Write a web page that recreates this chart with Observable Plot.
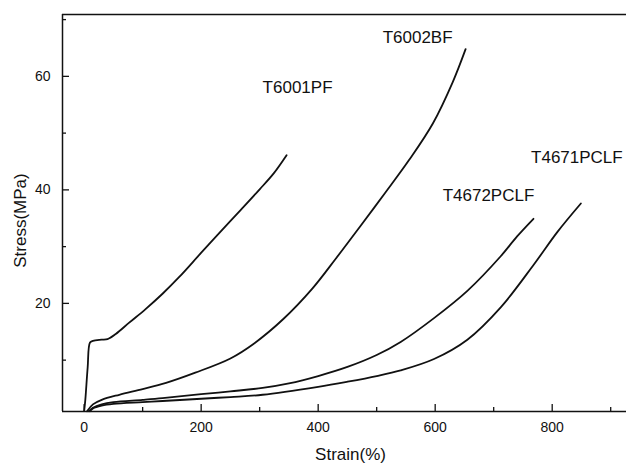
<!DOCTYPE html>
<html><head><meta charset="utf-8">
<script src="https://cdn.jsdelivr.net/npm/d3@7"></script>
<script src="https://cdn.jsdelivr.net/npm/@observablehq/plot@0.6"></script>
<style>body{margin:0;background:#fff} svg{display:block}</style>
</head><body><div id="chart"></div>
<script>
// ---- data ----
const seriesNames = ["T6001PF", "T6002BF", "T4672PCLF", "T4671PCLF"];

const strainT6001PF = [0, 2, 6, 10, 15, 30, 40, 54, 77, 105, 134, 163, 199, 230, 267, 300, 324, 346];
const stressT6001PF = [1, 3, 8.7, 13.1, 13.4, 13.6, 13.7, 14.6, 16.6, 19.0, 21.7, 24.7, 28.8, 32.3, 36.4, 40.1, 42.9, 46.1];

const strainT6002BF = [5, 15, 30, 60, 100, 140, 190, 250, 290, 340, 390, 431, 472, 514, 555, 596, 630, 652];
const stressT6002BF = [1, 2.2, 3.0, 3.9, 4.9, 6.0, 7.8, 10.3, 12.9, 17.2, 22.6, 28.0, 33.6, 39.4, 45.2, 51.7, 59.0, 64.8];

const strainT4672PCLF = [8, 15, 30, 50, 100, 134, 200, 250, 305, 350, 400, 450, 500, 541, 598, 655, 712, 740, 768];
const stressT4672PCLF = [1, 1.6, 2.2, 2.6, 3.0, 3.3, 4.0, 4.5, 5.1, 5.9, 7.2, 8.8, 10.9, 13.2, 17.4, 22.2, 28.3, 31.8, 34.9];

const strainT4671PCLF = [10, 15, 30, 50, 100, 134, 200, 250, 305, 400, 450, 500, 541, 598, 655, 712, 769, 809, 849];
const stressT4671PCLF = [1, 1.5, 2.0, 2.3, 2.6, 2.8, 3.2, 3.5, 3.9, 5.3, 6.2, 7.2, 8.2, 10.2, 13.6, 19.3, 26.9, 32.6, 37.6];

const xMajorTicks = [0, 200, 400, 600, 800];
const xMinorTicks = [100, 300, 500, 700, 900];
const yMajorTicks = [20, 40, 60];
const yMinorTicks = [10, 30, 50, 70];
const xTitle = "Strain(%)";
const yTitle = "Stress(MPa)";

// ---- build table ----
const strainBy = {T6001PF: strainT6001PF, T6002BF: strainT6002BF, T4672PCLF: strainT4672PCLF, T4671PCLF: strainT4671PCLF};
const stressBy = {T6001PF: stressT6001PF, T6002BF: stressT6002BF, T4672PCLF: stressT4672PCLF, T4671PCLF: stressT4671PCLF};
const rows = seriesNames.flatMap(s => strainBy[s].map((v, i) => ({series: s, strain: v, stress: stressBy[s][i]})));
const lastPoints = seriesNames.map(s => { const r = rows.filter(d => d.series === s); return r[r.length - 1]; });

// label offsets (px) relative to each curve's end point — styling
const labelOffset = {T6001PF: [11, -68], T6002BF: [-48, -12], T4672PCLF: [-45, -23], T4671PCLF: [-4, -46]};

const xDomain = [-37, 927];
const yDomain = [0.95, 70.9];
const font = "'Liberation Sans', Arial, Helvetica, sans-serif";
const ink = "#111";

const chart = Plot.plot({
  width: 626, height: 463,
  marginLeft: 62, marginRight: 0, marginTop: 14, marginBottom: 52,
  style: {fontFamily: font, fontSize: "14px", color: ink, background: "#fff"},
  x: {domain: xDomain, label: null},
  y: {domain: yDomain, label: null},
  marks: [
    Plot.line(rows, {x: "strain", y: "stress", z: "series", stroke: ink, strokeWidth: 1.8, curve: "catmull-rom"}),
    // inward ticks (shifted into the frame)
    Plot.axisX({ticks: xMajorTicks, tickSize: 7, dy: -7, tickFormat: () => "", strokeWidth: 1.3}),
    Plot.axisX({ticks: xMinorTicks, tickSize: 4, dy: -4, tickFormat: () => "", strokeWidth: 1.3}),
    Plot.axisY({ticks: yMajorTicks, tickSize: 7, dx: 7, tickFormat: () => "", strokeWidth: 1.3}),
    Plot.axisY({ticks: yMinorTicks, tickSize: 4, dx: 4, tickFormat: () => "", strokeWidth: 1.3}),
    // tick labels
    Plot.axisX({ticks: xMajorTicks, tickSize: 0, tickPadding: 10.5, fontSize: 14}),
    Plot.axisY({ticks: yMajorTicks, tickSize: 0, tickPadding: 12, fontSize: 14}),
    Plot.ruleX([xDomain[0]], {stroke: ink, strokeWidth: 1.5}),
    Plot.ruleY([yDomain[0]], {stroke: ink, strokeWidth: 1.5}),
    Plot.ruleY([yDomain[1]], {stroke: ink, strokeWidth: 1.5}),
    ...lastPoints.map(p => Plot.text([p], {
      x: "strain", y: "stress", text: "series",
      dx: labelOffset[p.series][0], dy: labelOffset[p.series][1],
      fontSize: 17, textAnchor: "middle", lineAnchor: "middle", fill: ink
    })),
    Plot.text([xTitle], {frameAnchor: "bottom", text: d => d, dx: 6, dy: 43, fontSize: 17, textAnchor: "middle", lineAnchor: "middle", fill: ink}),
    Plot.text([yTitle], {frameAnchor: "left", text: d => d, dx: -42.3, dy: 7.5, rotate: -90, fontSize: 17, textAnchor: "middle", lineAnchor: "middle", fill: ink})
  ]
});
document.getElementById("chart").appendChild(chart);
</script>
</body></html>
